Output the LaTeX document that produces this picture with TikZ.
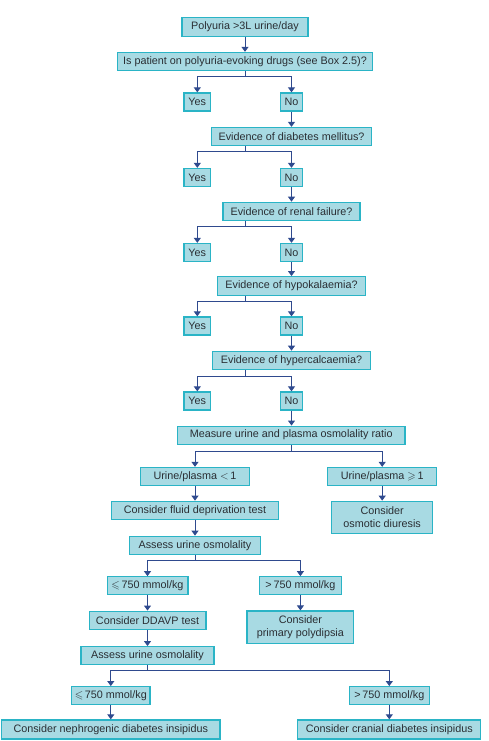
\documentclass[tikz,border=0pt]{standalone}
\usepackage{amssymb}
\usepackage{fontspec}
\setmainfont{Liberation Sans}
\usetikzlibrary{arrows.meta}
\definecolor{Celeste}{HTML}{A8DAE3}
\definecolor{Cian}{HTML}{2AB4C6}
\definecolor{Azul}{HTML}{2F4A8E}
\definecolor{Tinta}{HTML}{2A2E33}

\begin{document}
\begin{tikzpicture}[
  x=1pt,y=-1pt,
  every node/.style={font=\fontsize{10.8}{13}\selectfont},
  box/.style={draw=Cian,fill=Celeste,line width=1.3pt,text=Tinta,inner sep=0pt,minimum height=18pt,align=center},
  ans/.style={box,minimum width=24pt},
  flow/.style={-{Triangle[length=5pt,width=7pt]},line width=1pt,draw=Azul},
  link/.style={line width=1pt,draw=Azul}
]
  \useasboundingbox (0,0) rectangle (489,741);

  \node[box,minimum width=126pt,minimum height=19.5pt] (start) at (245,27) {Polyuria >3L urine/day};
  \node[box,minimum width=255pt] (q1) at (245,61.5) {Is patient on polyuria-evoking drugs (see Box 2.5)?};
  \node[ans,minimum width=26.7pt] (yes1) at (197.3,102) {Yes};
  \node[ans,minimum width=22.4pt] (no1) at (291.5,102) {No};
  \coordinate (j1) at (245,76.7);

  \node[box,minimum width=160pt] (q2) at (291.5,136.5) {Evidence of diabetes mellitus?};
  \node[ans,minimum width=26.7pt] (yes2) at (197.3,177.5) {Yes};
  \node[ans,minimum width=22.4pt] (no2) at (291.5,177.5) {No};
  \coordinate (j2) at (245,151);

  \node[box,minimum width=137pt] (q3) at (291.5,211.3) {Evidence of renal failure?};
  \node[ans,minimum width=26.7pt] (yes3) at (197.3,252.5) {Yes};
  \node[ans,minimum width=22.4pt] (no3) at (291.5,252.5) {No};
  \coordinate (j3) at (245,226.3);

  \node[box,minimum width=148.4pt,minimum height=18.6pt] (q4) at (291.5,286) {Evidence of hypokalaemia?};
  \node[ans,minimum width=26.7pt] (yes4) at (197.3,326) {Yes};
  \node[ans,minimum width=22.4pt] (no4) at (291.5,326) {No};
  \coordinate (j4) at (245,301.3);

  \node[box,minimum width=158.4pt] (q5) at (291.5,360.3) {Evidence of hypercalcaemia?};
  \node[ans,minimum width=26.7pt] (yes5) at (197.3,401) {Yes};
  \node[ans,minimum width=22.4pt] (no5) at (291.5,401) {No};
  \coordinate (j5) at (245,376);

  \node[box,minimum width=227.7pt] (ratio) at (291.2,435.2) {Measure urine and plasma osmolality ratio};
  \coordinate (j6) at (291.5,451);
  \node[box,minimum width=109pt] (low) at (195,476.5) {Urine/plasma \(<\)\,1};
  \node[box,minimum width=109pt] (high) at (382.2,476.5) {Urine/plasma \(\geqslant\)\,1};
  \node[box,minimum width=166.6pt] (fluid) at (195,510.3) {Consider fluid deprivation test};
  \node[box,minimum width=101pt,minimum height=32.4pt] (osmotic) at (382.2,517.5) {Consider\\osmotic diuresis};
  \node[box,minimum width=131.3pt] (assessA) at (195,545.3) {Assess urine osmolality};
  \coordinate (j7) at (195,560.7);

  \node[box,minimum width=80.7pt] (leA) at (147.5,585.8) {\(\leqslant\)\,750 mmol/kg};
  \node[box,minimum width=82.4pt] (gtA) at (300.4,585.8) {>\,750 mmol/kg};
  \node[box,minimum width=116.7pt] (ddavp) at (147.5,620.2) {Consider DDAVP test};
  \node[box,minimum width=106.7pt,minimum height=32.3pt] (polyd) at (300.4,627.2) {Consider\\primary polydipsia};
  \node[box,minimum width=133pt,minimum height=17.6pt] (assessB) at (147.5,655.5) {Assess urine osmolality};
  \coordinate (j8) at (147.5,670.3);

  \node[box,minimum width=78.4pt,minimum height=17.6pt] (leB) at (110.8,695.5) {\(\leqslant\)\,750 mmol/kg};
  \node[box,minimum width=80pt,minimum height=17.6pt] (gtB) at (389.3,695.5) {>\,750 mmol/kg};
  \node[box,minimum width=218.6pt,minimum height=19pt] (nephro) at (110.8,729.5) {Consider nephrogenic diabetes insipidus};
  \node[box,minimum width=183pt,minimum height=19pt] (cranial) at (389.3,729.5) {Consider cranial diabetes insipidus};

  \draw[flow] (start) -- (q1);
  \draw[link] (q1) -- (j1);
  \draw[flow] (j1) -| (yes1);
  \draw[flow] (j1) -| (no1);
  \draw[flow] (no1) -- (q2);
  \draw[link] (q2.south -| j2) -- (j2);
  \draw[flow] (j2) -| (yes2);
  \draw[flow] (j2) -| (no2);
  \draw[flow] (no2) -- (q3);
  \draw[link] (q3.south -| j3) -- (j3);
  \draw[flow] (j3) -| (yes3);
  \draw[flow] (j3) -| (no3);
  \draw[flow] (no3) -- (q4);
  \draw[link] (q4.south -| j4) -- (j4);
  \draw[flow] (j4) -| (yes4);
  \draw[flow] (j4) -| (no4);
  \draw[flow] (no4) -- (q5);
  \draw[link] (q5.south -| j5) -- (j5);
  \draw[flow] (j5) -| (yes5);
  \draw[flow] (j5) -| (no5);
  \draw[flow] (no5) -- (no5 |- ratio.north);
  \draw[link] (ratio.south -| j6) -- (j6);
  \draw[flow] (j6) -| (low);
  \draw[flow] (j6) -| (high);
  \draw[flow] (low) -- (fluid);
  \draw[flow] (high) -- (osmotic);
  \draw[flow] (fluid) -- (assessA);
  \draw[link] (assessA) -- (j7);
  \draw[flow] (j7) -| (leA);
  \draw[flow] (j7) -| (gtA);
  \draw[flow] (leA) -- (ddavp);
  \draw[flow] (gtA) -- (polyd);
  \draw[flow] (ddavp) -- (assessB);
  \draw[link] (assessB) -- (j8);
  \draw[flow] (j8) -| (leB);
  \draw[flow] (j8) -| (gtB);
  \draw[flow] (leB) -- (nephro);
  \draw[flow] (gtB) -- (cranial);
\end{tikzpicture}
\end{document}
